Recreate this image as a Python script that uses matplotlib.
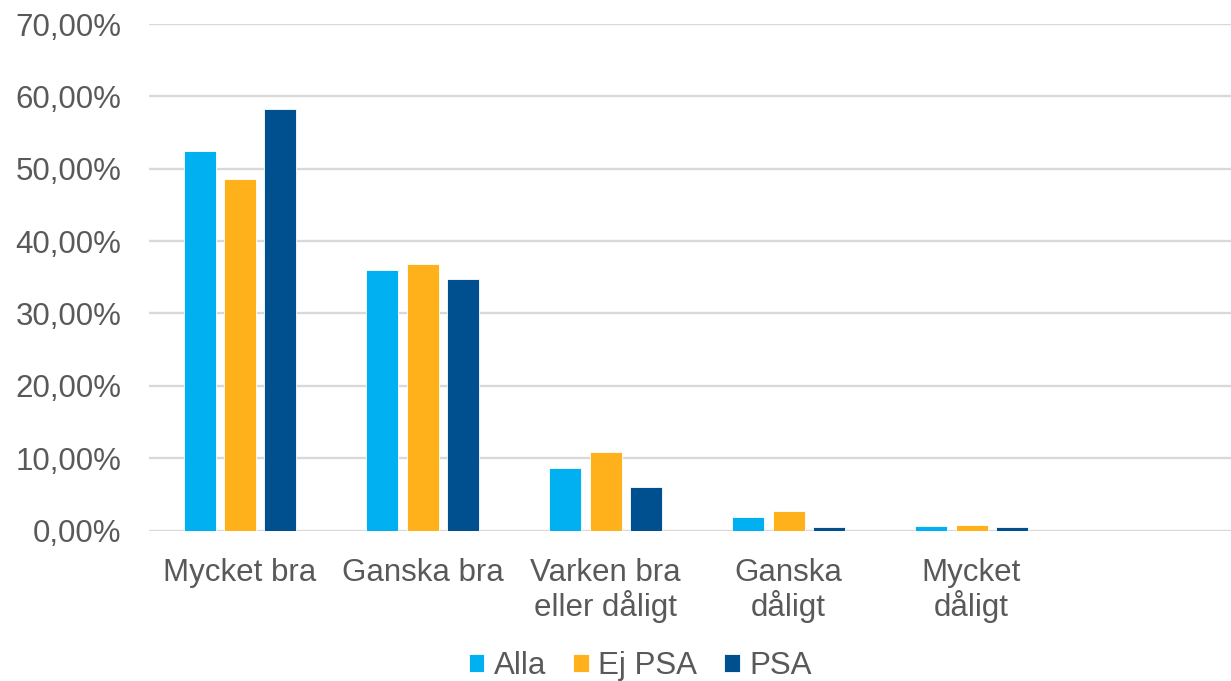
import matplotlib
matplotlib.use("Agg")
import matplotlib.pyplot as plt
import numpy as np
from matplotlib.ticker import FuncFormatter

categories = ["Mycket bra", "Ganska bra", "Varken bra\neller dåligt", "Ganska\ndåligt", "Mycket\ndåligt"]
series_names = ["Alla", "Ej PSA", "PSA"]
alla = [52.4, 36.0, 8.7, 1.8, 0.6]
ej_psa = [48.6, 36.8, 10.8, 2.7, 0.8]
psa = [58.2, 34.7, 6.0, 0.45, 0.45]
colors = ["#00B0F0", "#FFB11B", "#00508F"]
yticks = [0, 10, 20, 30, 40, 50, 60, 70]

plt.rcParams['font.family'] = ['Liberation Sans', 'DejaVu Sans']
txt = "#595959"

fig = plt.figure(figsize=(12.31, 6.81), dpi=100)
ax = fig.add_axes([148.5/1231, 1-530.5/681, 6*182.9/1231, (530.5-24)/681])

x = np.arange(len(categories))
w = 0.175
off = 0.221
for i, (vals, c, name) in enumerate(zip([alla, ej_psa, psa], colors, series_names)):
    ax.bar(x + (i-1)*off, vals, width=w, color=c, label=name, zorder=3,
           edgecolor="white", linewidth=0.6)

ax.set_xlim(-0.5, 5.5)
ax.set_ylim(0, 70)
ax.set_yticks(yticks)
ax.yaxis.set_major_formatter(FuncFormatter(lambda v, p: f"{v:.2f}%".replace(".", ",")))
ax.set_xticks(x)
ax.set_xticklabels(categories, linespacing=1.05)
ax.tick_params(axis='both', length=0, labelsize=22.5, labelcolor=txt)
ax.tick_params(axis='y', pad=19.5)
ax.tick_params(axis='x', pad=20)
ax.grid(axis='y', color="#D9D9D9", linewidth=1.7, zorder=0)
for s in ax.spines.values():
    s.set_visible(False)

fig.legend(loc="center", bbox_to_anchor=(640/1231, 1-666/681), ncol=3, frameon=False,
           fontsize=22.5, labelcolor=txt, handlelength=0.51, handleheight=0.51,
           handletextpad=0.3, columnspacing=0.85)

fig.savefig("out.png", dpi=100)
